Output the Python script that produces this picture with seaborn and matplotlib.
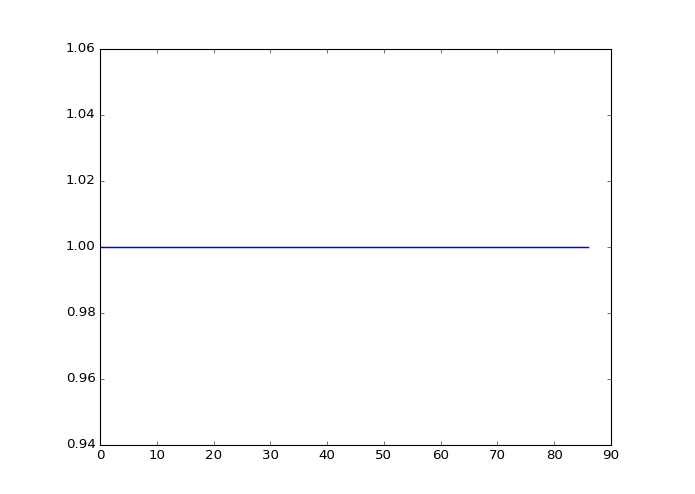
import numpy as np
import pandas as pd
import matplotlib
matplotlib.use("Agg")
import matplotlib.pyplot as plt
import seaborn as sns

# one value per step, flat at 1.0
steps = list(range(87))
values = [1.0] * 87

df = pd.DataFrame({"step": steps, "value": values})

plt.style.use("classic")
plt.rcParams["font.family"] = ["DejaVu Sans"]

fig = plt.figure(figsize=(695 / 80, 494 / 80), dpi=80)
ax = fig.add_axes([100 / 695, 1 - 445 / 494, 511 / 695, 396 / 494])

sns.lineplot(data=df, x="step", y="value", color="#0000ff", linewidth=1.3, ax=ax)

ax.set_xlim(0, 90)
ax.set_ylim(0.94, 1.06)
ax.set_yticks([0.94, 0.96, 0.98, 1.00, 1.02, 1.04, 1.06])
ax.set_xlabel("")
ax.set_ylabel("")

fig.savefig("out.png", dpi=80)
